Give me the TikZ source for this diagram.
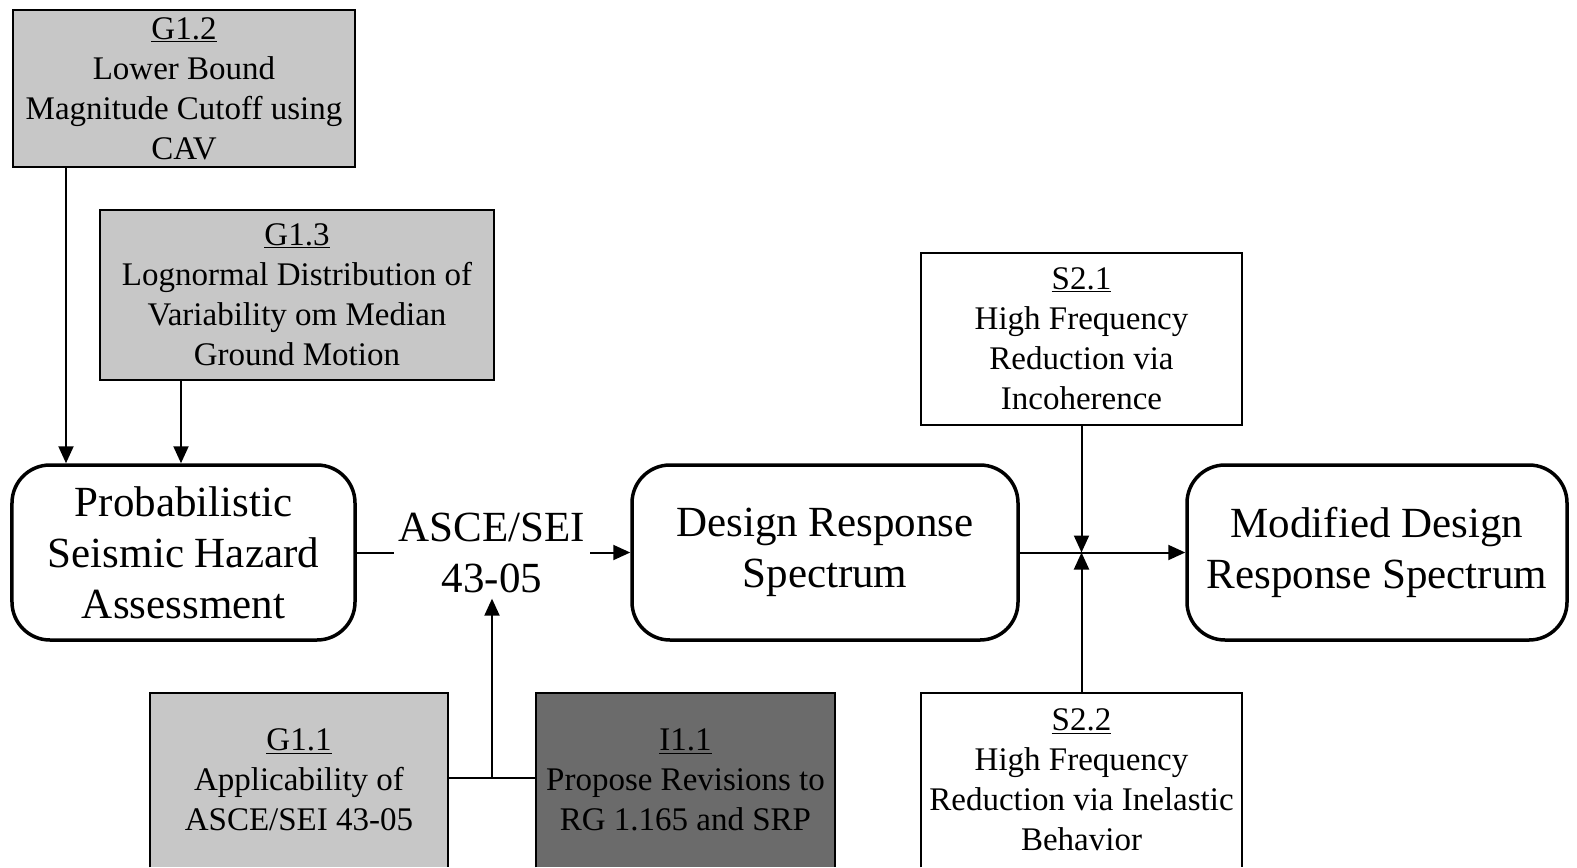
\documentclass[tikz,border=0pt]{standalone}
\usepackage{fontspec}
\setmainfont{Liberation Serif}
\usetikzlibrary{arrows.meta}
\begin{document}
\begin{tikzpicture}[x=1bp,y=-1bp,
  smallfont/.style={font=\fontsize{33bp}{40bp}\selectfont},
  bigfont/.style={font=\fontsize{43bp}{51bp}\selectfont},
  sbox/.style={draw=black, line width=2bp, inner sep=0pt, align=center, smallfont},
  lightbox/.style={sbox, fill=black!22},
  darkbox/.style={sbox, fill=black!58},
  whitebox/.style={sbox, fill=white},
  openbox/.style={inner sep=0pt, align=center, smallfont},
  mainbox/.style={draw=black, line width=3.5bp, rounded corners=38bp, inner sep=0pt, align=center, bigfont, fill=white},
  arr/.style={line width=2bp, -{Triangle[length=17bp,width=15bp]}},
  ln/.style={line width=2bp},
  edge3/.style={line width=2bp, line cap=butt}
]
\useasboundingbox (0,0) rectangle (1577,867);
\fill[white] (0,0) rectangle (1577,867);

% top input boxes
\node[lightbox, minimum width=342bp, minimum height=157bp] (g12) at (184,88.5)
  {\underline{G1.2}\\Lower Bound\\Magnitude Cutoff using\\CAV};
\node[lightbox, minimum width=394bp, minimum height=170bp] (g13) at (297,295)
  {\underline{G1.3}\\Lognormal Distribution of\\Variability om Median\\Ground Motion};

% main flow
\node[mainbox, minimum width=343bp, minimum height=175bp] (psha) at (183.5,552.5)
  {Probabilistic\\Seismic Hazard\\Assessment};
\node[bigfont, align=center, inner xsep=5bp, inner ysep=6bp] (asce) at (492,552.5)
  {ASCE/SEI\\43-05};
\node[mainbox, minimum width=386bp, minimum height=175bp] (drs) at (825,552.5)
  {Design Response\\Spectrum};
\node[mainbox, minimum width=380bp, minimum height=175bp] (mdrs) at (1377,552.5)
  {Modified Design\\Response Spectrum};

% S boxes
\node[whitebox, minimum width=321bp, minimum height=172bp] (s21) at (1081.5,339)
  {\underline{S2.1}\\High Frequency\\Reduction via\\Incoherence};
\node[openbox, fill=white, anchor=north, minimum width=321bp, minimum height=174bp] (s22) at (1081.5,693)
  {\underline{S2.2}\\High Frequency\\Reduction via Inelastic\\Behavior};
\draw[edge3] (s22.south west) -- (s22.north west) -- (s22.north east) -- (s22.south east);

% bottom boxes
\node[openbox, fill=black!22, anchor=north, minimum width=298bp, minimum height=174bp] (g11) at (299,693)
  {\underline{G1.1}\\Applicability of\\ASCE/SEI 43-05};
\draw[edge3] (g11.south west) -- (g11.north west) -- (g11.north east) -- (g11.south east);
\node[openbox, fill=black!58, anchor=north, minimum width=299bp, minimum height=174bp] (i11) at (685.5,693)
  {\underline{I1.1}\\Propose Revisions to\\RG 1.165 and SRP};
\draw[edge3] (i11.south west) -- (i11.north west) -- (i11.north east) -- (i11.south east);

% connectors
\draw[arr] ([xshift=54bp]g12.south west) -- ([xshift=54bp]g12.south west |- psha.north);
\draw[arr] ([xshift=82bp]g13.south west) -- ([xshift=82bp]g13.south west |- psha.north);
\draw[ln] (psha.east) -- (asce.west);
\draw[arr] (asce.east) -- (drs.west);
\draw[arr] (drs.east) -- (mdrs.west);
\coordinate (m) at (s21.south |- drs.east);
\draw[arr] (s21.south) -- (m);
\draw[arr] (s22.north) -- (m);
\coordinate (j) at (492,778);
\draw[ln] (g11.east |- j) -- (i11.west |- j);
\draw[arr] (j) -- (asce.south);
\end{tikzpicture}
\end{document}
